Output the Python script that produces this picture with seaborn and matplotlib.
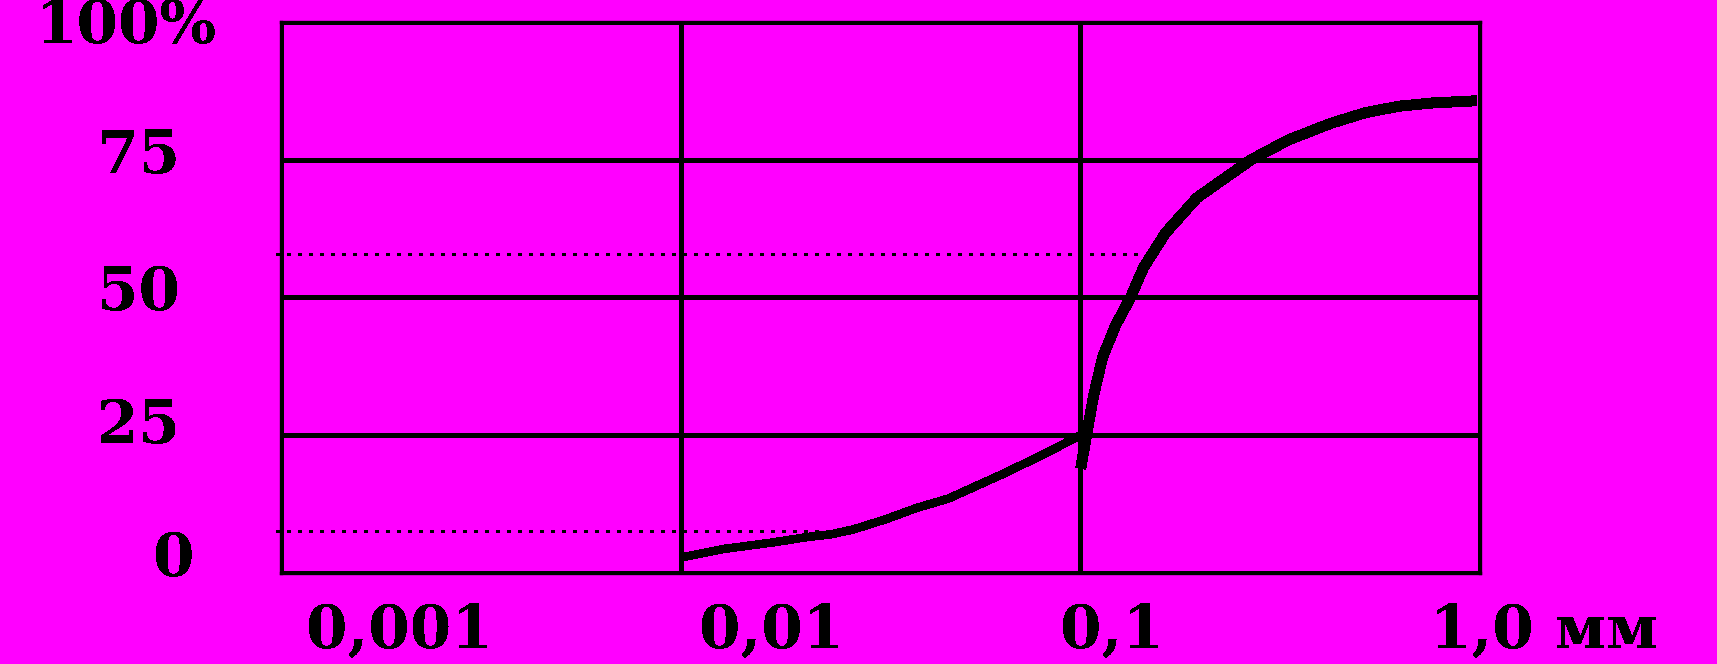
import matplotlib
matplotlib.use("Agg")
import matplotlib.pyplot as plt
import seaborn as sns
import pandas as pd

# ---- data ----
fine_size_mm = [0.01, 0.0129, 0.0170, 0.0208, 0.0237, 0.0270, 0.0324, 0.0389, 0.0467, 0.0632, 0.0797, 0.1]
fine_share = [2.8, 4.4, 5.55, 6.55, 7.0, 7.9, 9.7, 11.8, 13.5, 17.8, 21.3, 25.0]

coarse_size_mm = [0.1002, 0.1037, 0.1079, 0.1137, 0.1226, 0.1335, 0.1438, 0.1633, 0.1958,
                  0.2675, 0.3318, 0.4235, 0.5147, 0.6256, 0.7616, 0.981]
coarse_share = [19.0, 25.2, 32.2, 39.2, 45.0, 50.0, 55.4, 61.7, 68.1,
                75.0, 78.6, 81.6, 83.5, 84.7, 85.3, 85.7]

guide_share = [57.8, 7.55]
guide_end_mm = [0.142, 0.0233]

x_ticks = [0.001, 0.01, 0.1, 1.0]
x_tick_labels = ["0,001", "0,01", "0,1", "1,0 мм"]
y_ticks = [0, 25, 50, 75, 100]
y_tick_labels = ["0", "25", "50", "75", "100%"]

# ---- style ----
BG = "#FF00FF"
sns.set_theme(style="white")
plt.rcParams["font.family"] = ["DejaVu Serif"]
plt.rcParams["lines.antialiased"] = False
plt.rcParams["text.antialiased"] = False

fig = plt.figure(figsize=(17.17, 6.64), dpi=100, facecolor=BG)
ax = fig.add_axes([0.1637, 0.137, 0.6983, 0.830])
ax.set_facecolor(BG)

fine_df = pd.DataFrame({"size": fine_size_mm, "share": fine_share})
coarse_df = pd.DataFrame({"size": coarse_size_mm, "share": coarse_share})

sns.lineplot(data=fine_df, x="size", y="share", ax=ax, color="black",
             linewidth=5.4, sort=False, estimator=None, solid_capstyle="butt",
             solid_joinstyle="round", zorder=5)
sns.lineplot(data=coarse_df, x="size", y="share", ax=ax, color="black",
             linewidth=7.2, sort=False, estimator=None, solid_capstyle="butt",
             solid_joinstyle="round", zorder=5)

for yv, xe in zip(guide_share, guide_end_mm):
    ax.plot([0.00097, xe], [yv, yv], color="black", linewidth=2.0,
            linestyle=(0, (1.2, 2.6)), clip_on=False, zorder=4)

ax.set_xscale("log")
ax.set_xlim(x_ticks[0], x_ticks[-1])
ax.set_ylim(y_ticks[0], y_ticks[-1])
ax.set_xticks(x_ticks)
ax.set_yticks(y_ticks)
ax.minorticks_off()
ax.set_xticklabels([])
ax.set_yticklabels([])
ax.tick_params(which="both", length=0)
ax.grid(True, color="black", linewidth=2.2)
ax.set_axisbelow(True)
for s in ax.spines.values():
    s.set_visible(True)
    s.set_color("black")
    s.set_linewidth(2.4)
ax.set_xlabel("")
ax.set_ylabel("")

# tick label text placement (layout, in axes fractions; baselines)
ylab_x = [-0.089, -0.119, -0.119, -0.119, -0.129]
ylab_y = [-0.005, 0.236, 0.477, 0.726, 0.962]
for lbl, xx, yy in zip(y_tick_labels, ylab_x, ylab_y):
    ax.text(xx, yy, lbl, transform=ax.transAxes, ha="center", va="baseline",
            fontsize=43, fontweight="bold", color="black")

xlab_x = [0.099, 0.409, 0.693, 1.053]
for lbl, xx in zip(x_tick_labels, xlab_x):
    ax.text(xx, -0.136, lbl, transform=ax.transAxes, ha="center", va="baseline",
            fontsize=43, fontweight="bold", color="black")

fig.savefig("out.png", dpi=100, facecolor=BG)
